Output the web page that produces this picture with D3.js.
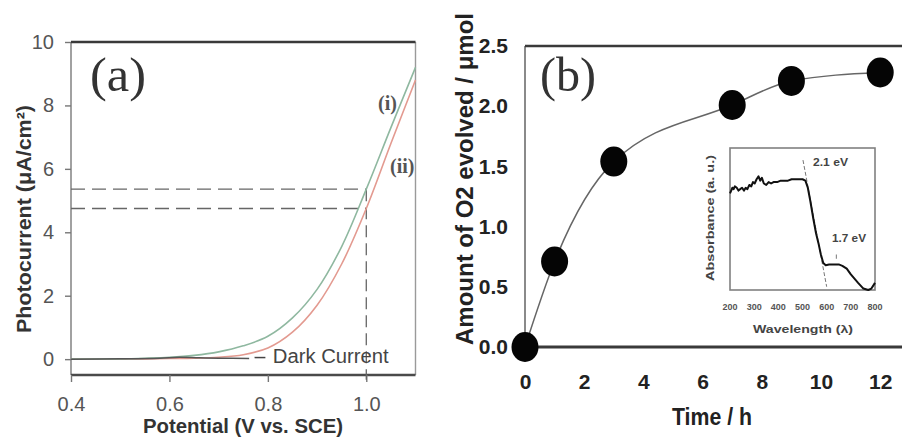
<!DOCTYPE html>
<html>
<head>
<meta charset="utf-8">
<script src="https://cdn.jsdelivr.net/npm/d3@7/dist/d3.min.js"></script>
<style>
  html, body { margin: 0; padding: 0; background: #fff; }
  svg { display: block; font-family: Arial, "Liberation Sans", Helvetica, sans-serif; }
</style>
</head>
<body>
<svg id="chart" width="902" height="440"></svg>
<script>
// ---------- Panel (a): photocurrent vs. potential ----------
const potential  = [0.4, 0.45, 0.5, 0.55, 0.6, 0.65, 0.7, 0.75, 0.8, 0.85, 0.9, 0.95, 1.0, 1.05, 1.1];
const currentI   = [0, 0.005, 0.01, 0.03, 0.06, 0.12, 0.23, 0.42, 0.72, 1.3, 2.2, 3.55, 5.36, 7.3, 9.2];
const currentII  = [0, 0, 0, 0.01, 0.02, 0.03, 0.06, 0.14, 0.35, 0.85, 1.7, 3.0, 4.75, 6.8, 8.8];
const darkPotential = [0.4, 0.5, 0.58, 0.62, 0.66, 0.7, 0.762];
const darkCurrent   = [0, 0.01, 0.03, 0.06, 0.04, 0.03, 0.02];
const refPotential = 1.0;
const refCurrents  = [5.36, 4.75];
const potentialTicks = [0.4, 0.6, 0.8, 1.0];
const currentTicks   = [0, 2, 4, 6, 8, 10];

// ---------- Panel (b): O2 evolution vs. time ----------
const timeH = [0, 1, 3, 7, 9, 12];
const o2Amount = [0, 0.71, 1.54, 2.01, 2.21, 2.28];
const timeTicks = [0, 2, 4, 6, 8, 10, 12];
const o2Ticks = [0, 0.5, 1.0, 1.5, 2.0, 2.5];

// ---------- Inset: absorbance spectrum ----------
const wavelength = [200, 205, 210, 215, 220, 228, 235, 242, 250, 258, 265, 272, 280, 288, 295, 302, 310, 318, 325, 332,
  340, 350, 360, 370, 380, 395, 410, 425, 440, 455, 470, 485, 500, 512, 522, 532, 545, 556, 566, 576,
  586, 596, 610, 630, 650, 665, 683, 700, 715, 730, 752, 772, 785, 800];
const absorbance = [0.68, 0.70, 0.72, 0.71, 0.73, 0.72, 0.70, 0.71, 0.72, 0.70, 0.72, 0.71, 0.74, 0.73, 0.76, 0.75, 0.78, 0.80, 0.77, 0.79,
  0.75, 0.74, 0.76, 0.75, 0.76, 0.76, 0.77, 0.77, 0.77, 0.78, 0.78, 0.78, 0.78, 0.77, 0.72, 0.63, 0.50, 0.40, 0.33, 0.25,
  0.19, 0.175, 0.18, 0.18, 0.18, 0.17, 0.15, 0.11, 0.08, 0.05, 0.01, 0.0, 0.01, 0.05];
const wavelengthTicks = [200, 300, 400, 500, 600, 700, 800];
const tangentWavelength = [502, 600];
const tangentAbsorbance = [0.915, 0.023];
const gapMarkWavelength = 640;

const svg = d3.select("#chart");

function addText(g, str, o) {
  const t = g.append("text")
    .text(str)
    .attr("font-size", o.size)
    .attr("font-weight", o.weight || "normal")
    .attr("font-family", o.family || null)
    .attr("fill", o.fill || "#222")
    .attr("text-anchor", o.anchor || "start");
  if (o.length) t.attr("textLength", o.length).attr("lengthAdjust", "spacingAndGlyphs");
  if (o.rotate) {
    t.attr("transform", `translate(${o.x},${o.y}) rotate(-90)`);
  } else {
    t.attr("x", o.x).attr("y", o.y);
  }
  return t;
}

// ================= Panel (a) =================
const xA = d3.scaleLinear().domain([0.4, 1.1]).range([71, 415.5]);
const yA = d3.scaleLinear().domain([-0.5, 10]).range([375, 42]);
const gA = svg.append("g");

// frame
const [ax0, ax1] = xA.range();
const [ay0, ay1] = yA.range();
gA.append("line").attr("x1", ax0).attr("x2", ax0).attr("y1", ay1).attr("y2", ay0).attr("stroke", "#8a8a8a").attr("stroke-width", 1.6);
gA.append("line").attr("x1", ax1).attr("x2", ax1).attr("y1", ay1).attr("y2", ay0).attr("stroke", "#9a9a9a").attr("stroke-width", 1.4);
gA.append("line").attr("x1", ax0).attr("x2", ax1).attr("y1", ay1).attr("y2", ay1).attr("stroke", "#3a3a3a").attr("stroke-width", 2.4);
gA.append("line").attr("x1", ax0).attr("x2", ax1).attr("y1", ay0).attr("y2", ay0).attr("stroke", "#4a4a4a").attr("stroke-width", 2.4);

// axes
const axisLeftA = gA.append("g").attr("transform", `translate(${ax0},0)`)
  .call(d3.axisLeft(yA).tickValues(currentTicks).tickFormat(d3.format("d")).tickSize(6).tickPadding(11));
const axisBottomA = gA.append("g").attr("transform", `translate(0,${ay0})`)
  .call(d3.axisBottom(xA).tickValues(potentialTicks).tickFormat(d3.format(".1f")).tickSize(7).tickPadding(15));
[axisLeftA, axisBottomA].forEach(a => {
  a.select(".domain").remove();
  a.selectAll(".tick line").attr("stroke", "#777").attr("stroke-width", 1.4);
  a.selectAll(".tick text").attr("font-size", 20).attr("fill", "#555")
    .attr("font-family", "Arial, 'Liberation Sans', sans-serif");
});

// reference dashed lines at 1.0 V
const dash = "14,7";
refCurrents.forEach(v => {
  gA.append("line")
    .attr("x1", xA(0.4)).attr("x2", xA(refPotential))
    .attr("y1", yA(v)).attr("y2", yA(v))
    .attr("stroke", "#666").attr("stroke-width", 1.3).attr("stroke-dasharray", dash);
});
gA.append("line")
  .attr("x1", xA(refPotential)).attr("x2", xA(refPotential))
  .attr("y1", yA(d3.max(refCurrents))).attr("y2", yA(-0.65))
  .attr("stroke", "#666").attr("stroke-width", 1.3).attr("stroke-dasharray", "12,6");

// curves
const lineA = d3.line().curve(d3.curveCatmullRom.alpha(0.5));
const ptsI = potential.map((p, i) => [xA(p), yA(currentI[i])]);
const ptsII = potential.map((p, i) => [xA(p), yA(currentII[i])]);
const ptsDark = darkPotential.map((p, i) => [xA(p), yA(darkCurrent[i])]);
gA.append("path").attr("d", lineA(ptsII)).attr("fill", "none").attr("stroke", "#e39a90").attr("stroke-width", 1.6);
gA.append("path").attr("d", lineA(ptsI)).attr("fill", "none").attr("stroke", "#8fb8a0").attr("stroke-width", 1.6);
gA.append("path").attr("d", lineA(ptsDark)).attr("fill", "none").attr("stroke", "#555").attr("stroke-width", 1.5);
// leader to the "Dark Current" label
gA.append("line").attr("x1", xA(0.773)).attr("x2", xA(0.795))
  .attr("y1", yA(0.05)).attr("y2", yA(0.05)).attr("stroke", "#444").attr("stroke-width", 1.5);
addText(gA, "Dark Current", { x: xA(0.81), y: yA(-0.12), size: 20, fill: "#444", length: 116 });

// labels
addText(gA, "(a)", { x: 90, y: 91, size: 48, family: "'Liberation Serif', 'Times New Roman', serif", fill: "#333", length: 56 });
addText(gA, "(i)", { x: 378, y: 110, size: 20, weight: "bold", family: "'Liberation Serif', 'Times New Roman', serif", fill: "#555" });
addText(gA, "(ii)", { x: 390, y: 173, size: 20, weight: "bold", family: "'Liberation Serif', 'Times New Roman', serif", fill: "#555" });
addText(gA, "Potential (V vs. SCE)", { x: 243, y: 433, size: 21, weight: "bold", anchor: "middle", fill: "#333", length: 200 });
addText(gA, "Photocurrent (\u03bcA/cm\u00b2)", { x: 31, y: 219, size: 21, weight: "bold", anchor: "middle", fill: "#333", length: 228, rotate: true });

// ================= Panel (b) =================
const xB = d3.scaleLinear().domain([0, 13]).range([525, 909.8]);
const yB = d3.scaleLinear().domain([0, 2.5]).range([347, 46]);
const gB = svg.append("g");
const [bx0, bx1] = xB.range();
const [by0, by1] = yB.range();

gB.append("line").attr("x1", bx0).attr("x2", bx0).attr("y1", by1).attr("y2", by0).attr("stroke", "#8a8a8a").attr("stroke-width", 2);
gB.append("line").attr("x1", bx0).attr("x2", bx1).attr("y1", by1).attr("y2", by1).attr("stroke", "#3a3a3a").attr("stroke-width", 2.6);
gB.append("line").attr("x1", bx0).attr("x2", bx1).attr("y1", by0).attr("y2", by0).attr("stroke", "#3a3a3a").attr("stroke-width", 3);

const axisLeftB = gB.append("g").attr("transform", `translate(${bx0},0)`)
  .call(d3.axisLeft(yB).tickValues(o2Ticks).tickFormat(d3.format(".1f")).tickSize(0).tickPadding(17));
const axisBottomB = gB.append("g").attr("transform", `translate(0,${by0})`)
  .call(d3.axisBottom(xB).tickValues(timeTicks).tickFormat(d3.format("d")).tickSize(0).tickPadding(27));
[axisLeftB, axisBottomB].forEach(a => {
  a.select(".domain").remove();
  a.selectAll(".tick text").attr("font-size", 21).attr("font-weight", "bold").attr("fill", "#222")
    .attr("font-family", "Arial, 'Liberation Sans', sans-serif");
});

// inset box (drawn before the main data so markers sit on top)
const xI = d3.scaleLinear().domain([200, 800]).range([730, 875]);
const yI = d3.scaleLinear().domain([0, 1]).range([290, 148]);
const gI = svg.append("g");
gI.append("rect").attr("x", xI(200)).attr("y", yI(1)).attr("width", xI(800) - xI(200)).attr("height", yI(0) - yI(1))
  .attr("fill", "#fff").attr("stroke", "#808080").attr("stroke-width", 1.6);
gI.append("line")
  .attr("x1", xI(tangentWavelength[0])).attr("y1", yI(tangentAbsorbance[0]))
  .attr("x2", xI(tangentWavelength[1])).attr("y2", yI(tangentAbsorbance[1]))
  .attr("stroke", "#777").attr("stroke-width", 1).attr("stroke-dasharray", "4,2");
gI.append("line")
  .attr("x1", xI(gapMarkWavelength)).attr("x2", xI(gapMarkWavelength))
  .attr("y1", yI(0.22)).attr("y2", yI(0.25))
  .attr("stroke", "#777").attr("stroke-width", 1);
gI.append("path")
  .attr("d", d3.line().curve(d3.curveLinear)(wavelength.map((w, i) => [xI(w), yI(absorbance[i])])))
  .attr("fill", "none").attr("stroke", "#111").attr("stroke-width", 2).attr("stroke-linejoin", "round");
wavelengthTicks.forEach(w => {
  addText(gI, String(w), { x: xI(w), y: 310, size: 9, weight: "bold", anchor: "middle", fill: "#555" });
});
addText(gI, "Wavelength (\u03bb)", { x: 803, y: 333, size: 11, weight: "bold", anchor: "middle", fill: "#444", length: 100 });
addText(gI, "Absorbance (a. u.)", { x: 714, y: 218, size: 10, weight: "bold", anchor: "middle", fill: "#444", length: 126, rotate: true });
addText(gI, "2.1 eV", { x: 813, y: 166, size: 10, weight: "bold", fill: "#444", length: 35 });
addText(gI, "1.7 eV", { x: 832, y: 242, size: 10, weight: "bold", fill: "#444", length: 34 });

// O2 evolution curve and markers
const ptsB = timeH.map((t, i) => [xB(t), yB(o2Amount[i])]);
gB.append("path").attr("d", d3.line().curve(d3.curveMonotoneX)(ptsB))
  .attr("fill", "none").attr("stroke", "#666").attr("stroke-width", 1.5);
gB.selectAll("ellipse.pt").data(timeH).join("ellipse").attr("class", "pt")
  .attr("cx", d => xB(d)).attr("cy", (d, i) => yB(o2Amount[i]))
  .attr("rx", 13.5).attr("ry", 15).attr("fill", "#050505");

addText(gB, "(b)", { x: 540, y: 91, size: 48, family: "'Liberation Serif', 'Times New Roman', serif", fill: "#333", length: 56 });
addText(gB, "Time / h", { x: 712, y: 425, size: 23, weight: "bold", anchor: "middle", fill: "#222", length: 80 });
addText(gB, "Amount of O2 evolved / \u03bcmol", { x: 473, y: 179, size: 23, weight: "bold", anchor: "middle", fill: "#222", length: 332, rotate: true });
</script>
</body>
</html>
